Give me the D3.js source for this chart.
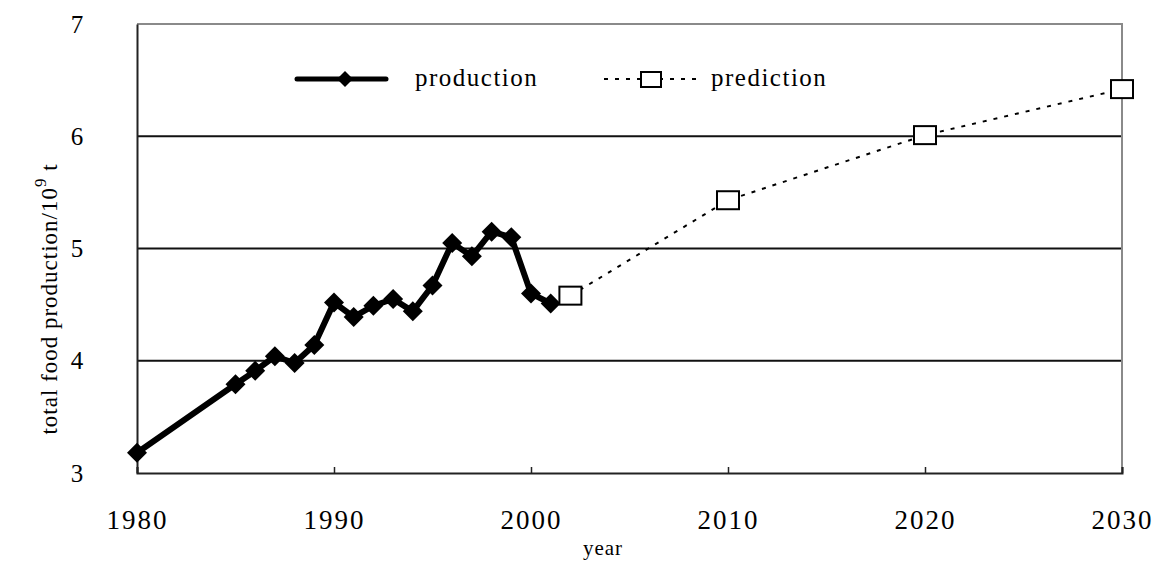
<!DOCTYPE html>
<html>
<head>
<meta charset="utf-8">
<script src="https://cdn.jsdelivr.net/npm/d3@7"></script>
<style>
  html, body { margin: 0; padding: 0; background: #fff; }
  svg { display: block; }
  text { font-family: "Liberation Serif", "Times New Roman", serif; fill: #000; }
</style>
</head>
<body>
<svg id="chart" width="1157" height="562"></svg>
<script>
// ---- data ----
const productionYears = [1980, 1985, 1986, 1987, 1988, 1989, 1990, 1991, 1992, 1993, 1994, 1995, 1996, 1997, 1998, 1999, 2000, 2001];
const productionValues = [3.18, 3.79, 3.91, 4.04, 3.98, 4.14, 4.52, 4.39, 4.49, 4.55, 4.44, 4.67, 5.05, 4.93, 5.15, 5.10, 4.60, 4.51];
const predictionYears = [2002, 2010, 2020, 2030];
const predictionValues = [4.58, 5.43, 6.01, 6.42];
const xTicks = [1980, 1990, 2000, 2010, 2020, 2030];
const yTicks = [3, 4, 5, 6, 7];
const seriesNames = ["production", "prediction"];

// ---- layout ----
const plot = { left: 137, right: 1122, top: 24, bottom: 473 };
const svg = d3.select("#chart");

const x = d3.scaleLinear().domain([1980, 2030]).range([plot.left, plot.right]);
const y = d3.scaleLinear().domain([3, 7]).range([plot.bottom, plot.top]);

// gridlines (4,5,6)
svg.append("g").selectAll("line")
  .data(yTicks.filter(v => v > 3 && v < 7))
  .join("line")
  .attr("x1", plot.left).attr("x2", plot.right)
  .attr("y1", d => y(d)).attr("y2", d => y(d))
  .attr("stroke", "#111").attr("stroke-width", 2);

// top & right border (grey)
svg.append("path")
  .attr("d", `M${plot.left},${y(7)}H${plot.right}V${plot.bottom}`)
  .attr("fill", "none").attr("stroke", "#8a8a8a").attr("stroke-width", 2);

// x axis
const xAxis = d3.axisBottom(x).tickValues(xTicks).tickSize(-6).tickFormat(d3.format("d")).tickPadding(36);
const gx = svg.append("g").attr("transform", `translate(0,${plot.bottom})`).call(xAxis);
gx.select(".domain").attr("stroke", "#222").attr("stroke-width", 2);
gx.selectAll(".tick line").attr("stroke", "#222").attr("stroke-width", 1.5);
gx.selectAll(".tick text")
  .style("font-family", "'Liberation Serif', serif")
  .style("font-size", "27px")
  .style("letter-spacing", "2px")
  .attr("y", 37)
  .attr("dy", "0.7em");

// y axis
const yAxis = d3.axisLeft(y).tickValues(yTicks).tickSize(0).tickPadding(60).tickFormat(d3.format("d"));
const gy = svg.append("g").attr("transform", `translate(${plot.left},0)`).call(yAxis);
gy.select(".domain").attr("stroke", "#222").attr("stroke-width", 2);
gy.selectAll(".tick text")
  .style("font-family", "'Liberation Serif', serif")
  .style("font-size", "25px")
  .attr("text-anchor", "middle");

// axis titles
svg.append("text")
  .attr("x", 603).attr("y", 555)
  .attr("text-anchor", "middle")
  .style("font-size", "21px")
  .style("letter-spacing", "1px")
  .text("year");

const yt = svg.append("text")
  .attr("transform", `translate(57, 299) rotate(-90)`)
  .attr("text-anchor", "middle")
  .style("font-size", "23px")
  .style("letter-spacing", "1px");
yt.append("tspan").text("total food production/10");
yt.append("tspan").attr("dy", "-11").style("font-size", "17px").text("9");
yt.append("tspan").attr("dy", "11").text(" t");

// diamond marker path
function diamond(cx, cy, r) {
  return `M${cx},${cy - r}L${cx + r},${cy}L${cx},${cy + r}L${cx - r},${cy}Z`;
}

// production line
const prodData = productionYears.map((yr, i) => ({ yr, v: productionValues[i] }));
const line = d3.line().x(d => x(d.yr)).y(d => y(d.v));
svg.append("path").datum(prodData)
  .attr("d", line).attr("fill", "none")
  .attr("stroke", "#000").attr("stroke-width", 6).attr("stroke-linejoin", "round");
svg.append("g").selectAll("path").data(prodData).join("path")
  .attr("d", d => diamond(x(d.yr), y(d.v), 10))
  .attr("fill", "#000");

// prediction line
const predData = predictionYears.map((yr, i) => ({ yr, v: predictionValues[i] }));
svg.append("path").datum(predData)
  .attr("d", line).attr("fill", "none")
  .attr("stroke", "#000").attr("stroke-width", 2).attr("stroke-dasharray", "4,7");
svg.append("g").selectAll("rect").data(predData).join("rect")
  .attr("x", d => x(d.yr) - 11).attr("y", d => y(d.v) - 9)
  .attr("width", 22).attr("height", 18)
  .attr("fill", "#fff").attr("stroke", "#000").attr("stroke-width", 2);

// legend
const lg = svg.append("g");
const ly = 79;
lg.append("line").attr("x1", 297).attr("x2", 386).attr("y1", ly).attr("y2", ly)
  .attr("stroke", "#000").attr("stroke-width", 5).attr("stroke-linecap", "round");
lg.append("path").attr("d", diamond(345, ly, 8)).attr("fill", "#000");
lg.append("text").attr("x", 415).attr("y", ly + 7).style("font-size", "25px").style("letter-spacing", "1.5px").text(seriesNames[0]);

lg.append("line").attr("x1", 604).attr("x2", 700).attr("y1", ly).attr("y2", ly)
  .attr("stroke", "#000").attr("stroke-width", 2).attr("stroke-dasharray", "4,7");
lg.append("rect").attr("x", 641).attr("y", ly - 7).attr("width", 20).attr("height", 15)
  .attr("fill", "#fff").attr("stroke", "#000").attr("stroke-width", 2);
lg.append("text").attr("x", 711).attr("y", ly + 7).style("font-size", "25px").style("letter-spacing", "1.5px").text(seriesNames[1]);
</script>
</body>
</html>
